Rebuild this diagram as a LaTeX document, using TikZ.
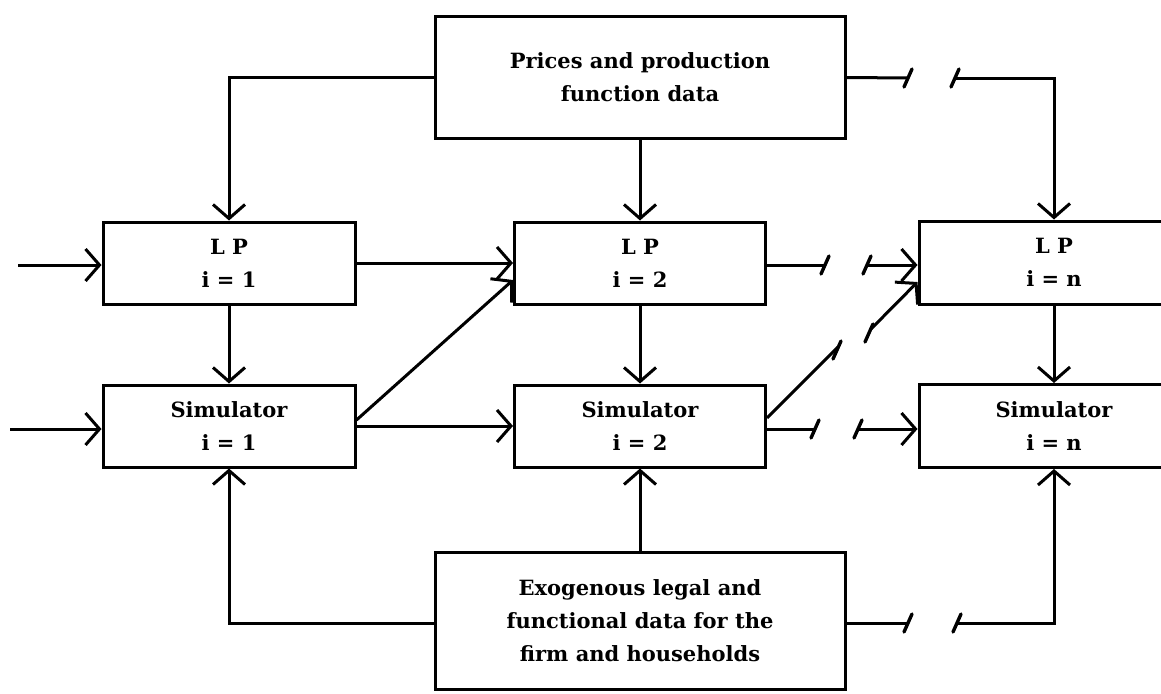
\documentclass[tikz,border=0pt]{standalone}
\usepackage{fontspec}
\setmainfont{DejaVu Serif}
\usetikzlibrary{arrows.meta,calc}
\begin{document}
\begin{tikzpicture}[x=1pt,y=-1pt,
  line width=3pt,
  box/.style={draw,line width=3pt,inner sep=0pt,align=center,
    font=\bfseries\fontsize{21}{33}\selectfont},
  arr/.style={-{Straight Barb[length=14pt,width=32pt,line width=3pt]}},
  tk/.style={line width=3.4pt,line cap=round}]
\useasboundingbox (0,0) rectangle (1161,693);
\fill[white] (0,0) rectangle (1161,693);
\clip (0,0) rectangle (1161,693);
% boxes
\node[box,minimum width=410pt,minimum height=121pt] (top) at (640,77.5) {Prices and production\\function data};
\node[box,minimum width=252pt,minimum height=82pt] (LP1) at (229,263) {L P\\i = 1};
\node[box,minimum width=252pt,minimum height=82pt] (S1) at (229,426) {Simulator\\i = 1};
\node[box,minimum width=251pt,minimum height=82pt] (LP2) at (640,263) {L P\\i = 2};
\node[box,minimum width=251pt,minimum height=82pt] (S2) at (640,426) {Simulator\\i = 2};
\node[box,minimum width=270pt,minimum height=83pt] (LPn) at (1054,262.5) {L P\\i = n};
\node[box,minimum width=270pt,minimum height=83pt] (Sn) at (1054,426) {Simulator\\i = n};
\node[box,minimum width=410pt,minimum height=137pt] (bot) at (640,620.5) {Exogenous legal and\\functional data for the\\firm and households};
% free ends
\coordinate (in1) at (18,265);
\coordinate (in2) at (10,429);
\coordinate (t1) at (908,78);
\coordinate (t2) at (955,78);
\coordinate (a1) at (825,265);
\coordinate (a2) at (867,265);
\coordinate (d1) at (838,347);
\coordinate (d2) at (870,330);
\coordinate (s1) at (815,429);
\coordinate (s2) at (858,429);
\coordinate (u1) at (908,623);
\coordinate (u2) at (957,623);
% inputs
\draw[arr] (in1) -- (in1 -| LP1.west);
\draw[arr] (in2) -- (in2 -| S1.west);
% from top box
\draw[arr] (top.west) -| (LP1.north);
\draw[arr] (top.south) -- (LP2.north);
\draw (top.east) -- (t1);
\draw[arr] (t2) -| (LPn.north);
% verticals
\draw[arr] (LP1.south) -- (S1.north);
\draw[arr] (LP2.south) -- (S2.north);
\draw[arr] (LPn.south) -- (Sn.north);
% between columns
\draw[arr] (LP1.east) -- (LP2.west);
\draw[arr] ($(S1.east)+(0,-6)$) -- ($(LP2.west)+(0,17)$);
\draw[arr] (S1.east) -- (S2.west);
\draw ($(LP2.east)+(0,2)$) -- (a1);
\draw[arr] (a2) -- ($(LPn.west)+(0,2.5)$);
\draw ($(S2.east)+(0,-8)$) -- (d1);
\draw[arr] (d2) -- ($(LPn.west)+(0,19.5)$);
\draw ($(S2.east)+(0,3)$) -- (s1);
\draw[arr] (s2) -- ($(Sn.west)+(0,3)$);
% from bottom box
\draw[arr] (bot.west |- u1) -| (S1.south);
\draw[arr] (bot.north) -- (S2.south);
\draw (bot.east |- u1) -- (u1);
\draw[arr] (u2) -| (Sn.south);
% break ticks
\foreach \p in {t1,t2,a1,a2,s1,s2,u1,u2}
  \draw[tk] ($(\p)+(-4,9)$) -- ($(\p)+(4,-9)$);
\draw[tk] ($(d1)+(-5,12)$) -- ($(d1)+(3,-6)$);
\draw[tk] ($(d2)+(-5,12)$) -- ($(d2)+(3,-6)$);
\end{tikzpicture}
\end{document}
